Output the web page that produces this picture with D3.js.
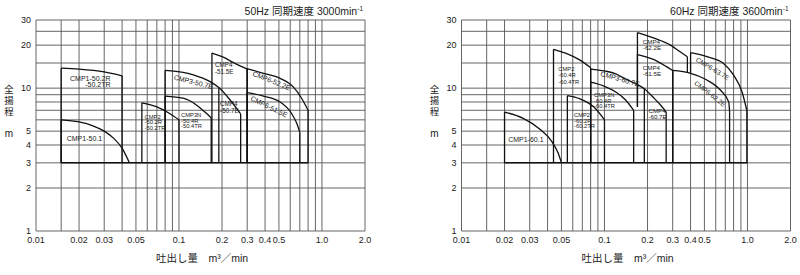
<!DOCTYPE html>
<html>
<head>
<meta charset="utf-8">
<script src="https://cdn.jsdelivr.net/npm/d3@7"></script>
<style>
    body { margin: 0; background: #fff; }
    svg { display: block; }
    text { font-family: "Liberation Sans", Arial, "Noto Sans CJK JP", sans-serif; fill: #222; }
    .jp { font-family: "Noto Sans CJK JP", "Liberation Sans", sans-serif; }
    .vert { writing-mode: vertical-rl; }
</style>
</head>
<body>
<svg id="chart" width="800" height="275"></svg>
<script>
// grid and tick values (log axes)
const xGrid = [0.01, 0.015, 0.02, 0.03, 0.04, 0.05, 0.06, 0.07, 0.08, 0.09,
               0.1, 0.2, 0.3, 0.4, 0.5, 0.6, 0.7, 0.8, 0.9, 1.0, 2.0];
const yGrid = [1, 2, 3, 4, 5, 6, 7, 8, 9, 10, 15, 20, 25, 30];
const xTickLabels = [0.01, 0.02, 0.03, 0.05, 0.1, 0.2, 0.3, 0.4, 0.5, 1.0, 2.0];
const yTickLabels = [1, 2, 3, 4, 5, 10, 20, 30];

// 50Hz pump curves: [flow m3/min, head m]
const c50_1_2R  = [[0.015, 13.8], [0.02, 13.6], [0.03, 13.0], [0.04, 12.2]];
const c50_1_1   = [[0.015, 6.0], [0.02, 5.8], [0.025, 5.45], [0.03, 5.0], [0.035, 4.45], [0.04, 3.8], [0.045, 3.0]];
const c50_2_2R  = [[0.055, 7.9], [0.07, 7.4], [0.085, 6.7], [0.1, 6.0]];
const c50_3N_4R = [[0.08, 8.8], [0.107, 8.5], [0.133, 7.6], [0.152, 6.8], [0.168, 6.2]];
const c50_07E   = [[0.08, 13.3], [0.126, 12.4], [0.165, 11.1], [0.19, 10.1], [0.227, 8.3], [0.27, 6.6]];
const c50_4_15E = [[0.17, 17.6], [0.2, 16.6], [0.25, 14.8], [0.3, 13.6]];
const c50_6_22E = [[0.3, 13.7], [0.39, 12.7], [0.51, 11.7], [0.63, 10.2], [0.72, 8.5], [0.8, 7.0]];
const c50_6_15E = [[0.3, 9.3], [0.39, 8.8], [0.51, 8.0], [0.61, 6.7], [0.665, 5.7], [0.7, 4.9]];

// 60Hz pump curves
const c60_1_1   = [[0.02, 6.8], [0.027, 6.15], [0.035, 5.2], [0.043, 4.2], [0.0475, 3.5], [0.05, 3.0]];
const c60_2_4R  = [[0.044, 18.7], [0.054, 17.5], [0.0675, 15.7], [0.08, 13.9]];
const c60_2_2R  = [[0.055, 8.85], [0.0675, 8.4], [0.084, 7.4], [0.1, 6.0]];
const c60_3N_4R = [[0.08, 11.0], [0.1, 10.3], [0.12, 9.4], [0.14, 8.3], [0.16, 7.0]];
const c60_07E   = [[0.08, 13.6], [0.1, 13.2], [0.12, 12.6], [0.14, 11.6], [0.17, 10.6], [0.19, 9.9], [0.22, 8.6], [0.25, 7.5], [0.27, 6.8]];
const c60_4_22E = [[0.17, 24.5], [0.22, 22.5], [0.29, 20.0], [0.34, 17.9], [0.38, 16.6]];
const c60_4_15E = [[0.17, 17.2], [0.22, 15.9], [0.27, 14.2], [0.3, 13.3]];
const c60_6_22E = [[0.3, 13.3], [0.4, 12.7], [0.52, 11.4], [0.646, 9.7], [0.74, 8.0], [0.75, 6.8]];
const c60_6_37E = [[0.4, 17.7], [0.52, 16.6], [0.68, 14.9], [0.8, 12.35], [0.917, 9.4], [0.99, 7.0]];

// curve outlines: points, head where the left / right edges stop
const curves50 = [
    { pts: c50_1_2R, left: 3, right: 3 },
    { pts: c50_1_1, left: 3, right: 3 },
    { pts: c50_2_2R, left: 3, right: 3 },
    { pts: c50_3N_4R, left: 3, right: 3 },
    { pts: c50_07E, left: 3, right: 3 },
    { pts: c50_4_15E, left: 3, right: 3 },
    { pts: c50_6_22E, left: 3, right: 3 },
    { pts: c50_6_15E, left: 3, right: 3 },
];
const curves60 = [
    { pts: c60_1_1, left: 3, right: 3 },
    { pts: c60_2_4R, left: 3, right: 3 },
    { pts: c60_2_2R, left: 3, right: 3 },
    { pts: c60_3N_4R, left: 3, right: 3 },
    { pts: c60_07E, left: 3, right: 3 },
    { pts: c60_4_22E, left: 7.4, right: 12.8 },
    { pts: c60_4_15E, left: 7.4, right: 3 },
    { pts: c60_6_22E, left: 3, right: 3 },
    { pts: c60_6_37E, left: 12.7, right: 3 },
];
// extra model dividers: [flow, head]
const dividers50 = [[0.19, 10.1]];
const dividers60 = [[0.19, 9.9]];

// labels: lines, anchor flow/head (first baseline), rotation, font size, line step
const labels50 = [
    { t: ['CMP1-50.2R', '-50.2TR'], q: 0.0332, h: 11.2, a: 'end', r: 0, s: 7, lh: 6.3 },
    { t: ['CMP1-50.1'], q: 0.0164, h: 4.26, a: 'start', r: 0, s: 7, lh: 0 },
    { t: ['CMP2', '-50.2R', '-50.2TR'], q: 0.0574, h: 6.08, a: 'start', r: 0, s: 5.8, lh: 5.3 },
    { t: ['CMP3N', '-50.4R', '-50.4TR'], q: 0.1033, h: 6.3, a: 'start', r: 0, s: 5.8, lh: 5.8 },
    { t: ['CMP3-50.7E'], q: 0.0915, h: 11.5, a: 'start', r: 14, s: 7, lh: 0 },
    { t: ['CMP4', '-51.5E'], q: 0.1785, h: 14.1, a: 'start', r: 0, s: 6.3, lh: 6.8 },
    { t: ['CMP4', '-50.7E'], q: 0.1938, h: 7.5, a: 'start', r: 0, s: 6.3, lh: 6.8 },
    { t: ['CMP6-52.2E'], q: 0.324, h: 12.27, a: 'start', r: 22, s: 7, lh: 0 },
    { t: ['CMP6-51.5E'], q: 0.314, h: 8.25, a: 'start', r: 26, s: 7, lh: 0 },
];
const labels60 = [
    { t: ['CMP1-60.1'], q: 0.0212, h: 4.23, a: 'start', r: 0, s: 7, lh: 0 },
    { t: ['CMP2', '-60.4R', '-60.4TR'], q: 0.0475, h: 13.2, a: 'start', r: 0, s: 5.8, lh: 6.4 },
    { t: ['CMP2', '-60.2R', '-60.2TR'], q: 0.0612, h: 6.27, a: 'start', r: 0, s: 5.8, lh: 5.5 },
    { t: ['CMP3N', '-60.4R', '-60.4TR'], q: 0.0846, h: 8.66, a: 'start', r: 0, s: 5.8, lh: 5.5 },
    { t: ['CMP3-60.7E'], q: 0.0932, h: 12.2, a: 'start', r: 16, s: 7, lh: 0 },
    { t: ['CMP4', '-62.2E'], q: 0.1855, h: 20.4, a: 'start', r: 0, s: 6.2, lh: 6.5 },
    { t: ['CMP4', '-61.5E'], q: 0.1855, h: 13.5, a: 'start', r: 0, s: 6.2, lh: 6.5 },
    { t: ['CMP4', '-60.7E'], q: 0.203, h: 6.7, a: 'start', r: 0, s: 6.2, lh: 6.5 },
    { t: ['CMP6-63.7E'], q: 0.4315, h: 15.5, a: 'start', r: 31, s: 6.6, lh: 0 },
    { t: ['CMP6-62.2E'], q: 0.421, h: 10.7, a: 'start', r: 38, s: 6.6, lh: 0 },
];

const panels = [
    { x0: 36, hz: '50Hz', rpm: '3000', curves: curves50, dividers: dividers50, labels: labels50, base: [0.015, 0.8] },
    { x0: 461.5, hz: '60Hz', rpm: '3600', curves: curves60, dividers: dividers60, labels: labels60, base: [0.02, 1.0] },
];

const svg = d3.select('#chart');
const plotW = 329, plotTop = 20, plotBottom = 231;

panels.forEach(p => {
    const x = d3.scaleLog().domain([0.01, 2]).range([p.x0, p.x0 + plotW]);
    const y = d3.scaleLog().domain([1, 30]).range([plotBottom, plotTop]);
    const g = svg.append('g');

    // grid
    g.append('g').selectAll('line').data(xGrid).enter().append('line')
        .attr('x1', d => x(d)).attr('x2', d => x(d))
        .attr('y1', plotTop).attr('y2', plotBottom)
        .attr('stroke', '#555').attr('stroke-width', 0.9);
    g.append('g').selectAll('line').data(yGrid).enter().append('line')
        .attr('x1', p.x0).attr('x2', p.x0 + plotW)
        .attr('y1', d => y(d)).attr('y2', d => y(d))
        .attr('stroke', '#555').attr('stroke-width', 0.9);

    // tick labels
    g.append('g').selectAll('text').data(xTickLabels).enter().append('text')
        .attr('x', d => x(d)).attr('y', 243)
        .attr('text-anchor', 'middle').attr('font-size', '9px')
        .text(d => d >= 1 ? d.toFixed(1) : String(d));
    g.append('g').selectAll('text').data(yTickLabels).enter().append('text')
        .attr('x', p.x0 - 5).attr('y', d => y(d) + 3.2)
        .attr('text-anchor', 'end').attr('font-size', '9px')
        .text(d => d);

    // y title, vertical writing
    g.append('text').attr('class', 'jp vert')
        .attr('x', p.x0 - 27).attr('y', 85)
        .attr('font-size', '9.5px').attr('letter-spacing', '1.5px')
        .text('全揚程');
    g.append('text').attr('x', p.x0 - 27).attr('y', 137)
        .attr('text-anchor', 'middle').attr('font-size', '10px').text('m');

    // x title
    const xt = g.append('text').attr('class', 'jp')
        .attr('x', p.x0 + 120).attr('y', 262).attr('font-size', '10.5px');
    xt.append('tspan').text('吐出し量　');
    xt.append('tspan').attr('font-family', 'Liberation Sans').text('m³');
    xt.append('tspan').text('／');
    xt.append('tspan').attr('font-family', 'Liberation Sans').text('min');

    // panel title
    const tt = g.append('text').attr('x', p.x0 + plotW - 2).attr('y', 15)
        .attr('text-anchor', 'end').attr('font-size', '10.5px');
    tt.append('tspan').text(p.hz + ' ');
    tt.append('tspan').attr('class', 'jp').text('同期速度');
    tt.append('tspan').text(' ' + p.rpm + 'min');
    tt.append('tspan').attr('font-size', '6.5px').attr('dy', -4).text('-1');

    // pump curves
    const line = d3.line().x(d => x(d[0])).y(d => y(d[1])).curve(d3.curveMonotoneX);
    const cg = g.append('g').attr('fill', 'none').attr('stroke', '#111').attr('stroke-width', 1.3);
    p.curves.forEach(c => {
        const f = c.pts[0], l = c.pts[c.pts.length - 1];
        cg.append('path').attr('d', line(c.pts));
        cg.append('line').attr('x1', x(f[0])).attr('x2', x(f[0]))
            .attr('y1', y(f[1])).attr('y2', y(c.left));
        cg.append('line').attr('x1', x(l[0])).attr('x2', x(l[0]))
            .attr('y1', y(l[1])).attr('y2', y(c.right));
    });
    p.dividers.forEach(d => {
        cg.append('line').attr('x1', x(d[0])).attr('x2', x(d[0]))
            .attr('y1', y(d[1])).attr('y2', y(3));
    });
    cg.append('line').attr('x1', x(p.base[0])).attr('x2', x(p.base[1]))
        .attr('y1', y(3)).attr('y2', y(3)).attr('stroke-width', 1.5);

    // curve labels (one text per label, lines as tspans)
    p.labels.forEach(lb => {
        const t = g.append('text')
            .attr('transform', `translate(${x(lb.q)},${y(lb.h)}) rotate(${lb.r})`)
            .attr('text-anchor', lb.a).attr('font-size', lb.s + 'px');
        lb.t.forEach((s, i) => {
            t.append('tspan').attr('x', 0).attr('y', i * lb.lh).text(s);
        });
    });
});
</script>
</body>
</html>
